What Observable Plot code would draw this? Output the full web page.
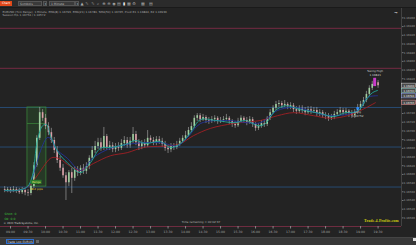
<!DOCTYPE html>
<html><head><meta charset="utf-8">
<script src="https://cdn.jsdelivr.net/npm/d3@7"></script>
<script src="https://cdn.jsdelivr.net/npm/@observablehq/plot@0.6"></script>
<style>
html,body{margin:0;padding:0;background:#232323;width:416px;height:245px;overflow:hidden;font-family:"DejaVu Sans",sans-serif}
#tb{position:relative;height:8px;background:#2b2b2b;border-bottom:1px solid #1a1a1a;box-sizing:border-box}
#tb span{position:absolute;top:1px;height:5px;line-height:5px;font-size:3px;color:#bbb;white-space:nowrap;overflow:hidden}
#tb .btn{background:#e0481a;color:#fff;text-align:center}
#tb .dd{background:#3a3a3a;border:0.5px solid #555;box-sizing:border-box;padding-left:1px}
#tb .ic{width:4px;text-align:center;color:#aaa;font-size:4px}
#chart svg{display:block}
#bb{position:relative;height:8px;background:#383838;border-top:1px solid #444;box-sizing:border-box}
#bb .tab{position:absolute;left:6px;top:1px;width:28px;height:5px;border:0.7px solid #2f6fd0;box-sizing:border-box;font-size:3px;line-height:4px;color:#ddd;text-align:center;background:#2c2c2c;white-space:nowrap;overflow:hidden}
#bb .sq{position:absolute;left:36px;top:2px;width:3px;height:3px;background:#666}
#bb .sq2{position:absolute;right:0;top:0;width:3px;height:3px;background:#ddd}
</style></head>
<body>
<div id="tb">
 <span class="btn" style="left:0;width:12px">Chart</span>
 <span class="dd" style="left:18px;width:24px">Symbols</span>
 <span class="dd" style="left:43px;width:4px">▾</span>
 <span class="dd" style="left:49px;width:26px">1 Minute</span>
 <span class="dd" style="left:75px;width:4px">▾</span>
 <span class="ic" style="left:80px">▲</span>
 <span class="ic" style="left:85px">✎</span>
 <span class="ic" style="left:91px">✎</span>
 <span class="ic" style="left:96px">⌕</span>
 <span class="ic" style="left:102px">⊕</span>
 <span class="ic" style="left:107px">⊖</span>
 <span class="ic" style="left:112px">◉</span>
 <span class="ic" style="left:117px">▤</span>
 <span class="ic" style="left:122px;color:#eee">▮</span>
 <span class="ic" style="left:127px">▦</span>
 <span class="ic" style="left:132px">⚙</span>
 <span class="ic" style="left:141px">▦</span>
 <span class="ic" style="left:149px">▤</span>
</div>
<div id="chart"></div>
<div id="bb"><div class="tab">Trade Log EURUSD</div><div class="sq"></div><div class="sq2"></div></div>
<script>
// ---- data ----
const firstOpen = 1.16565;
const closes = [1.16563,1.16565,1.16561,1.16565,1.16563,1.16558,1.16563,1.16558,1.16556,1.16572,
 1.16620,1.16683,1.16742,1.16729,1.16710,1.16696,1.16678,1.16655,1.16632,1.16614,
 1.16597,1.16581,1.16604,1.16591,1.16609,1.16604,1.16614,1.16607,1.16618,1.16637,
 1.16655,1.16664,1.16673,1.16660,1.16687,1.16662,1.16666,1.16657,1.16664,1.16660,
 1.16671,1.16678,1.16666,1.16676,1.16692,1.16673,1.16664,1.16671,1.16666,1.16683,
 1.16678,1.16673,1.16680,1.16676,1.16669,1.16660,1.16657,1.16664,1.16662,1.16669,
 1.16676,1.16683,1.16689,1.16701,1.16710,1.16729,1.16735,1.16726,1.16731,1.16724,
 1.16722,1.16726,1.16729,1.16722,1.16724,1.16726,1.16729,1.16722,1.16715,1.16712,
 1.16722,1.16729,1.16724,1.16719,1.16726,1.16715,1.16706,1.16710,1.16717,1.16715,
 1.16729,1.16742,1.16752,1.16761,1.16763,1.16758,1.16761,1.16756,1.16758,1.16749,
 1.16745,1.16752,1.16747,1.16742,1.16749,1.16745,1.16747,1.16740,1.16742,1.16735,
 1.16733,1.16729,1.16731,1.16738,1.16742,1.16747,1.16742,1.16745,1.16740,1.16735,
 1.16742,1.16752,1.16761,1.16770,1.16784,1.16798,1.16807,1.16811,1.16804];
const highs = [1.16572,1.16570,1.16570,1.16572,1.16570,1.16568,1.16570,1.16568,1.16565,1.16577,
 1.16627,1.16689,1.16754,1.16749,1.16738,1.16719,1.16706,1.16685,1.16664,1.16641,
 1.16623,1.16604,1.16609,1.16614,1.16618,1.16618,1.16620,1.16623,1.16627,1.16643,
 1.16664,1.16676,1.16683,1.16683,1.16708,1.16692,1.16676,1.16673,1.16671,1.16673,
 1.16680,1.16687,1.16685,1.16685,1.16708,1.16699,1.16680,1.16678,1.16680,1.16701,
 1.16689,1.16685,1.16687,1.16687,1.16683,1.16676,1.16666,1.16671,1.16671,1.16676,
 1.16683,1.16689,1.16699,1.16708,1.16719,1.16735,1.16740,1.16740,1.16738,1.16735,
 1.16731,1.16733,1.16735,1.16733,1.16731,1.16733,1.16738,1.16733,1.16726,1.16722,
 1.16729,1.16735,1.16733,1.16731,1.16733,1.16731,1.16719,1.16717,1.16724,1.16726,
 1.16733,1.16749,1.16758,1.16768,1.16770,1.16768,1.16770,1.16765,1.16765,1.16763,
 1.16756,1.16758,1.16758,1.16754,1.16756,1.16756,1.16754,1.16754,1.16749,1.16747,
 1.16742,1.16740,1.16738,1.16745,1.16749,1.16754,1.16752,1.16752,1.16749,1.16747,
 1.16749,1.16761,1.16768,1.16777,1.16791,1.16804,1.16814,1.16821,1.16816];
const lows = [1.16558,1.16558,1.16556,1.16558,1.16556,1.16554,1.16554,1.16551,1.16549,1.16551,
 1.16568,1.16616,1.16678,1.16722,1.16703,1.16689,1.16671,1.16648,1.16625,1.16607,
 1.16591,1.16540,1.16572,1.16556,1.16584,1.16595,1.16597,1.16600,1.16600,1.16611,
 1.16632,1.16648,1.16657,1.16653,1.16655,1.16655,1.16655,1.16650,1.16650,1.16653,
 1.16655,1.16664,1.16660,1.16660,1.16671,1.16666,1.16655,1.16657,1.16660,1.16662,
 1.16671,1.16666,1.16666,1.16669,1.16662,1.16653,1.16648,1.16650,1.16655,1.16657,
 1.16664,1.16671,1.16678,1.16685,1.16696,1.16706,1.16722,1.16719,1.16722,1.16717,
 1.16715,1.16717,1.16719,1.16715,1.16717,1.16719,1.16722,1.16715,1.16708,1.16706,
 1.16708,1.16719,1.16717,1.16712,1.16715,1.16708,1.16699,1.16701,1.16706,1.16708,
 1.16710,1.16724,1.16738,1.16747,1.16754,1.16752,1.16754,1.16749,1.16749,1.16742,
 1.16738,1.16740,1.16740,1.16735,1.16738,1.16738,1.16740,1.16733,1.16733,1.16729,
 1.16726,1.16722,1.16724,1.16726,1.16733,1.16738,1.16735,1.16735,1.16731,1.16729,
 1.16729,1.16738,1.16747,1.16756,1.16765,1.16779,1.16793,1.16802,1.16798];

// moving averages (bar index, value)
const slowIdx = [0,4,8,10.5,13.3,15.7,17.4,19.8,21.5,26,30.4,36.3,42,47.6,56.8,60.3,64.7,70.6,78.4,87.7,93.5,99,105.9,111.7,117.5,122,127.1];
const slowVal = [1.16563,1.16563,1.16572,1.16591,1.16618,1.16637,1.16639,1.16632,1.16623,1.16609,1.16625,1.16643,1.16650,1.16662,1.16666,1.16671,1.16689,1.16706,1.16717,1.16724,1.16735,1.16742,1.16735,1.16729,1.16735,1.16747,1.16765];
const midIdx = [0,4,8,10.5,12.3,14.7,16.4,17.4,21.5,26,30.4,36.3,44.2,53.4,59.2,62.7,67.1,76.4,83.2,87.7,93.5,98,101.4,111.7,121,124.4,127.8];
const midVal = [1.16563,1.16563,1.16572,1.16614,1.16655,1.16685,1.16678,1.16660,1.16637,1.16609,1.16639,1.16660,1.16671,1.16673,1.16666,1.16685,1.16717,1.16724,1.16719,1.16719,1.16747,1.16754,1.16752,1.16735,1.16747,1.16777,1.16781];
const fastIdx = [0,4,7.8,9.5,11.2,13,14.3,15.7,18.4,21.5,26,29.4,32.8,36.3,41.4,44.8,48.3,53.4,56.8,60.3,63.7,67.1,72.3,79.1,82.5,87,89.4,92.8,96.3,101.4,108.3,112.7,116.8,121,123.7,126.1,127.8];
const fastVal = [1.16563,1.16563,1.16572,1.16597,1.16678,1.16712,1.16715,1.16689,1.16650,1.16627,1.16604,1.16627,1.16660,1.16662,1.16669,1.16678,1.16671,1.16676,1.16662,1.16671,1.16696,1.16726,1.16724,1.16719,1.16724,1.16712,1.16717,1.16747,1.16758,1.16749,1.16740,1.16733,1.16742,1.16745,1.16770,1.16788,1.16793];

// horizontal levels
const redLevels = [1.16936, 1.16844];
const blueLevels = [1.16754, 1.16663, 1.16571];
// opening range box
const rangeStart = 7.8, rangeEnd = 14.3, rangeHigh = 1.16754, rangeLow = 1.16572, rangeMid = 1.16717;
const rangeText = ["Range", "18.2 pips"];
// axis ticks
const yTicks = [1.1696,1.1694,1.1692,1.1690,1.1688,1.1686,1.1684,1.1682,1.1680,1.1678,1.1676,1.1674,1.1672,1.1670,1.1668,1.1666,1.1664,1.1662,1.1660,1.1658,1.1656,1.1654,1.1652,1.1650];
const xTickIdx = [2,8,14,20,26,32,38,44,50,56,62,68,74,80,86,92,98,104,110,116,122,128];
const timeLabels = ["09:00","09:30","10:00","10:30","11:00","11:30","12:00","12:30","13:00","13:30","14:00","14:30","15:00","15:30","16:00","16:30","17:00","17:30","18:00","18:30","19:00","19:30"];
// texts
const titleLines = ["EURUSD (Tick Range), 1 Minute, EMA(8) 1.16793, EMA(21) 1.16781, SMA(50) 1.16765, Pivot R1 1.16844, R2 1.16936",
                    "Session H/L 1.16754 / 1.16572"];
const footLeft = ["Short: 0", "Ok: 0.0"];
const copyright = "© 2023 TradeSystems, Inc.";
const timeRemaining = "Time remaining = 00:02:37";
const brand = "Trade-4-Profits.com";
const peakLabel = ["Swing High", "1.16821"];
const signalLabel = ["Long", "1.16752"];
const signalIdx = 121, signalPrice = 1.16752;

// ---- build ----
const W = 416, H = 229, mR = 15, mB = 11;
const xDomain = [-1.44, 136.03];
const yDomain = [1.164802, 1.169816];
const pxX = (W - mR) / (xDomain[1] - xDomain[0]);
const pxY = (H - mB) / (yDomain[1] - yDomain[0]);

const opens = [firstOpen, ...closes.slice(0, -1)];
const bars = closes.map((c, i) => ({i, o: opens[i], c, h: highs[i], l: lows[i], up: c >= opens[i]}));
const ma = (idx, val) => idx.map((x, k) => ({x, y: val[k]}));

// current-value boxes on the price axis
const endBoxes = [
  {v: closes.at(-1), c: "#dcdcdc"},
  {v: fastVal.at(-1), c: "#9ee0d8"},
  {v: midVal.at(-1), c: "#9fb0ff"},
  {v: slowVal.at(-1), c: "#ff9f9f"}
].map(d => ({...d, label: d.v.toFixed(5), pos: d.v}));
const boxH = 4.2 / pxY, gap = 5.3 / pxY;
endBoxes.sort((a, b) => b.v - a.v);
for (let k = 1; k < endBoxes.length; k++)
  if (endBoxes[k - 1].pos - endBoxes[k].pos < gap) endBoxes[k].pos = endBoxes[k - 1].pos - gap;
const boxX1 = xDomain[1] + 0.3 / pxX, boxX2 = xDomain[1] + 14.6 / pxX;
// axis labels hidden behind the value boxes
const shownTicks = yTicks.filter(t => endBoxes.every(b => Math.abs(b.pos - t) * pxY > 4));

const plot = Plot.plot({
  width: W, height: H,
  marginLeft: 0, marginRight: mR, marginTop: 0, marginBottom: mB,
  style: {background: "#232323", color: "#9a9a9a", fontFamily: "DejaVu Sans, sans-serif"},
  x: {domain: xDomain, axis: null},
  y: {domain: yDomain, axis: null},
  marks: [
    Plot.ruleY(redLevels, {stroke: "#7e2a46", strokeWidth: 0.9}),
    Plot.ruleY(blueLevels, {stroke: "#28507c", strokeWidth: 0.9}),
    Plot.ruleY([yDomain[0]], {stroke: "#6e2c40", strokeWidth: 1}),
    Plot.rect([0], {x1: () => rangeStart, x2: () => rangeEnd, y1: () => rangeLow, y2: () => rangeHigh, fill: "#2e6a2e", fillOpacity: 0.3, stroke: "#3c8c3c", strokeWidth: 0.7}),
    Plot.ruleY([rangeMid], {x1: rangeStart, x2: rangeEnd, stroke: "#3c8c3c", strokeWidth: 0.7}),
    Plot.ruleX(bars, {x: "i", y1: "l", y2: "h", stroke: "#b0b0b0", strokeWidth: 0.6}),
    Plot.ruleX(bars, {x: "i", y1: "o", y2: "c", stroke: d => d.up ? "#9fcf9f" : "#dca0a8", strokeWidth: 1.6}),
    Plot.line(ma(slowIdx, slowVal), {x: "x", y: "y", stroke: "#a11f24", strokeWidth: 0.9, curve: "catmull-rom"}),
    Plot.line(ma(midIdx, midVal), {x: "x", y: "y", stroke: "#23339a", strokeWidth: 0.9, curve: "catmull-rom"}),
    Plot.line(ma(fastIdx, fastVal), {x: "x", y: "y", stroke: "#22a89a", strokeWidth: 0.9, curve: "catmull-rom"}),
    // peak marker and label
    Plot.rect([bars[127]], {x1: d => d.i - 0.5, x2: d => d.i + 0.5, y1: "l", y2: "h", fill: "#c83cc8"}),
    Plot.text([peakLabel[0]], {x: 127, y: highs[127], dy: -7, text: d => d, fontSize: 2.8, fill: "#d0d0d0"}),
    Plot.text([peakLabel[1]], {x: 127, y: highs[127], dy: -3.6, text: d => d, fontSize: 2.8, fill: "#d0d0d0"}),
    // signal marker
    Plot.dot([0], {x: () => signalIdx, y: () => signalPrice, symbol: "square", r: 1.4, fill: "#2a8cff"}),
    Plot.text([signalLabel[0]], {x: signalIdx, y: signalPrice, dy: 4, text: d => d, fontSize: 2.8, fill: "#d0d0d0"}),
    Plot.text([signalLabel[1]], {x: signalIdx, y: signalPrice, dy: 7.4, text: d => d, fontSize: 2.8, fill: "#d0d0d0"}),
    // range label
    Plot.rect([0], {x1: () => rangeStart + 1.2, x2: () => rangeEnd - 1.5, y1: () => rangeLow + 0.5 * boxH, y2: () => rangeLow + 1.5 * boxH, fill: "#2c7a2c"}),
    Plot.text([rangeText[0]], {x: (rangeStart + rangeEnd) / 2 - 0.2, y: rangeLow + boxH, text: d => d, fontSize: 2.8, fill: "#e6e070"}),
    Plot.text([rangeText[1]], {x: (rangeStart + rangeEnd) / 2 - 0.2, y: rangeLow - 0.7 * boxH, text: d => d, fontSize: 2.8, fill: "#e6d040"}),
    // right axis
    Plot.ruleX([xDomain[1]], {stroke: "#4a4a4a", strokeWidth: 0.8, y1: yDomain[0], y2: yDomain[1]}),
    Plot.axisY(shownTicks, {anchor: "right", tickSize: 1.5, tickPadding: 0.8, fontSize: 2.7, tickFormat: d => d.toFixed(5), color: "#a0a0a0", stroke: "#777"}),
    Plot.rect(endBoxes, {x1: () => boxX1, x2: () => boxX2, y1: d => d.pos - boxH / 2, y2: d => d.pos + boxH / 2, fill: "#4a4a4a", stroke: "c", strokeWidth: 0.5}),
    Plot.text(endBoxes, {x: () => (boxX1 + boxX2) / 2, y: "pos", text: "label", fontSize: 2.6, fill: "#f0f0f0"}),
    // bottom axis
    Plot.axisX(xTickIdx, {anchor: "bottom", tickSize: 2.5, tickPadding: 1.5, fontSize: 3.1, color: "#a0a0a0", stroke: "#888", tickFormat: d => timeLabels[xTickIdx.indexOf(d)]}),
    // texts
    Plot.text([titleLines[0]], {frameAnchor: "top-left", dx: 2, dy: 2, textAnchor: "start", lineAnchor: "top", text: d => d, fontSize: 2.8, fill: "#a8a8a8"}),
    Plot.text([titleLines[1]], {frameAnchor: "top-left", dx: 2, dy: 5.5, textAnchor: "start", lineAnchor: "top", text: d => d, fontSize: 2.8, fill: "#a8a8a8"}),
    Plot.text(["→"], {frameAnchor: "top-right", dx: -4, dy: 3, lineAnchor: "top", text: d => d, fontSize: 4, fill: "#e0e0e0"}),
    Plot.text([footLeft[0]], {frameAnchor: "bottom-left", dx: 4, dy: -12, textAnchor: "start", text: d => d, fontSize: 3, fill: "#3cc83c"}),
    Plot.text([footLeft[1]], {frameAnchor: "bottom-left", dx: 4, dy: -6.5, textAnchor: "start", text: d => d, fontSize: 3, fill: "#3cc83c"}),
    Plot.text([copyright], {frameAnchor: "bottom-left", dx: 3, dy: -2.5, textAnchor: "start", text: d => d, fontSize: 2.6, fill: "#d0d0d0"}),
    Plot.text([timeRemaining], {frameAnchor: "bottom", dx: 0, dy: -4, text: d => d, fontSize: 2.8, fill: "#b8b8b8"}),
    Plot.text([brand], {frameAnchor: "bottom-right", dx: -3, dy: -4.5, textAnchor: "end", text: d => d, fontSize: 4, fontWeight: "bold", fontFamily: "Liberation Serif, serif", fill: "#cccc10"})
  ]
});
document.getElementById("chart").append(plot);
</script>
</body></html>
